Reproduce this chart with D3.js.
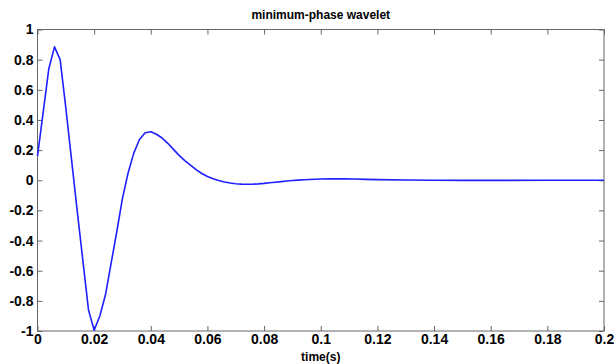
<!DOCTYPE html>
<html><head><meta charset="utf-8">
<script src="https://cdn.jsdelivr.net/npm/d3@7"></script>
<style>html,body{margin:0;padding:0;background:#fff;}svg{display:block;font-family:Arial,"Liberation Sans",sans-serif;}</style>
</head><body>
<script>
const times = [0,0.002,0.004,0.006,0.008,0.010,0.012,0.014,0.016,0.018,0.020,0.022,0.024,0.026,0.028,0.030,0.032,0.034,0.036,0.038,0.040,0.042,0.044,0.046,0.048,0.050,0.052,0.054,0.056,0.058,0.060,0.062,0.064,0.066,0.068,0.070,0.072,0.074,0.076,0.078,0.080,0.082,0.084,0.086,0.088,0.090,0.092,0.094,0.096,0.098,0.100,0.104,0.108,0.112,0.116,0.120,0.130,0.140,0.150,0.160,0.180,0.200];
const amplitude = [0.16,0.45,0.74,0.885,0.80,0.48,0.14,-0.20,-0.53,-0.86,-0.995,-0.90,-0.76,-0.55,-0.34,-0.12,0.05,0.18,0.27,0.315,0.322,0.305,0.28,0.245,0.205,0.165,0.13,0.10,0.07,0.045,0.025,0.01,-0.002,-0.012,-0.018,-0.023,-0.026,-0.027,-0.026,-0.024,-0.021,-0.017,-0.013,-0.009,-0.005,-0.002,0.001,0.003,0.005,0.007,0.008,0.009,0.009,0.008,0.006,0.004,0.002,0.0,-0.001,-0.001,0,0];
const xTicks = [0,0.02,0.04,0.06,0.08,0.1,0.12,0.14,0.16,0.18,0.2];
const xTickLabels = ["0","0.02","0.04","0.06","0.08","0.1","0.12","0.14","0.16","0.18","0.2"];
const yTicks = [-1,-0.8,-0.6,-0.4,-0.2,0,0.2,0.4,0.6,0.8,1];
const yTickLabels = ["-1","-0.8","-0.6","-0.4","-0.2","0","0.2","0.4","0.6","0.8","1"];
const titleText = "minimum-phase wavelet";
const xLabelText = "time(s)";

const W = 614, H = 364;
const m = {left:37.5, right:10, top:29.5, bottom:33};
const svg = d3.select("body").append("svg").attr("width", W).attr("height", H);
const x = d3.scaleLinear().domain([0,0.2]).range([m.left, W - m.right]);
const y = d3.scaleLinear().domain([-1,1]).range([H - m.bottom, m.top]);
const axisColor = "#666";
const tickLen = 5;

function styleAxis(g){
  g.select(".domain").remove();
  g.selectAll(".tick line").attr("stroke", axisColor);
  g.selectAll(".tick text").attr("fill", "#000").attr("font-weight", "bold").attr("font-size", 14);
}

// bottom axis (ticks inward)
svg.append("g").attr("transform", `translate(0,${y(-1)})`)
  .call(d3.axisBottom(x).tickValues(xTicks).tickFormat((d,i)=>xTickLabels[i]).tickSizeInner(-tickLen).tickSizeOuter(0).tickPadding(3))
  .call(styleAxis);
// top ticks
svg.append("g").attr("transform", `translate(0,${y(1)})`)
  .call(d3.axisTop(x).tickValues(xTicks).tickFormat("").tickSizeInner(-tickLen).tickSizeOuter(0))
  .call(styleAxis);
// left axis
svg.append("g").attr("transform", `translate(${x(0)},0)`)
  .call(d3.axisLeft(y).tickValues(yTicks).tickFormat((d,i)=>yTickLabels[i]).tickSizeInner(-tickLen).tickSizeOuter(0).tickPadding(4))
  .call(styleAxis);
// right ticks
svg.append("g").attr("transform", `translate(${x(0.2)},0)`)
  .call(d3.axisRight(y).tickValues(yTicks).tickFormat("").tickSizeInner(-tickLen).tickSizeOuter(0))
  .call(styleAxis);

// frame
svg.append("rect").attr("x", x(0)).attr("y", y(1))
  .attr("width", x(0.2) - x(0)).attr("height", y(-1) - y(1))
  .attr("fill", "none").attr("stroke", axisColor).attr("stroke-width", 1);

// curve
const line = d3.line().x((d,i)=>x(times[i])).y(d=>y(d));
svg.append("path").datum(amplitude).attr("d", line)
  .attr("fill", "none").attr("stroke", "#1f1fff").attr("stroke-width", 1.6).attr("stroke-linejoin","round");

// title
svg.append("text").attr("x", (x(0)+x(0.2))/2).attr("y", 19).attr("text-anchor","middle")
  .attr("font-weight","bold").attr("font-size", 12).text(titleText);
// x label
svg.append("text").attr("x", (x(0)+x(0.2))/2).attr("y", 361).attr("text-anchor","middle")
  .attr("font-weight","bold").attr("font-size", 12).text(xLabelText);
</script>
</body></html>
